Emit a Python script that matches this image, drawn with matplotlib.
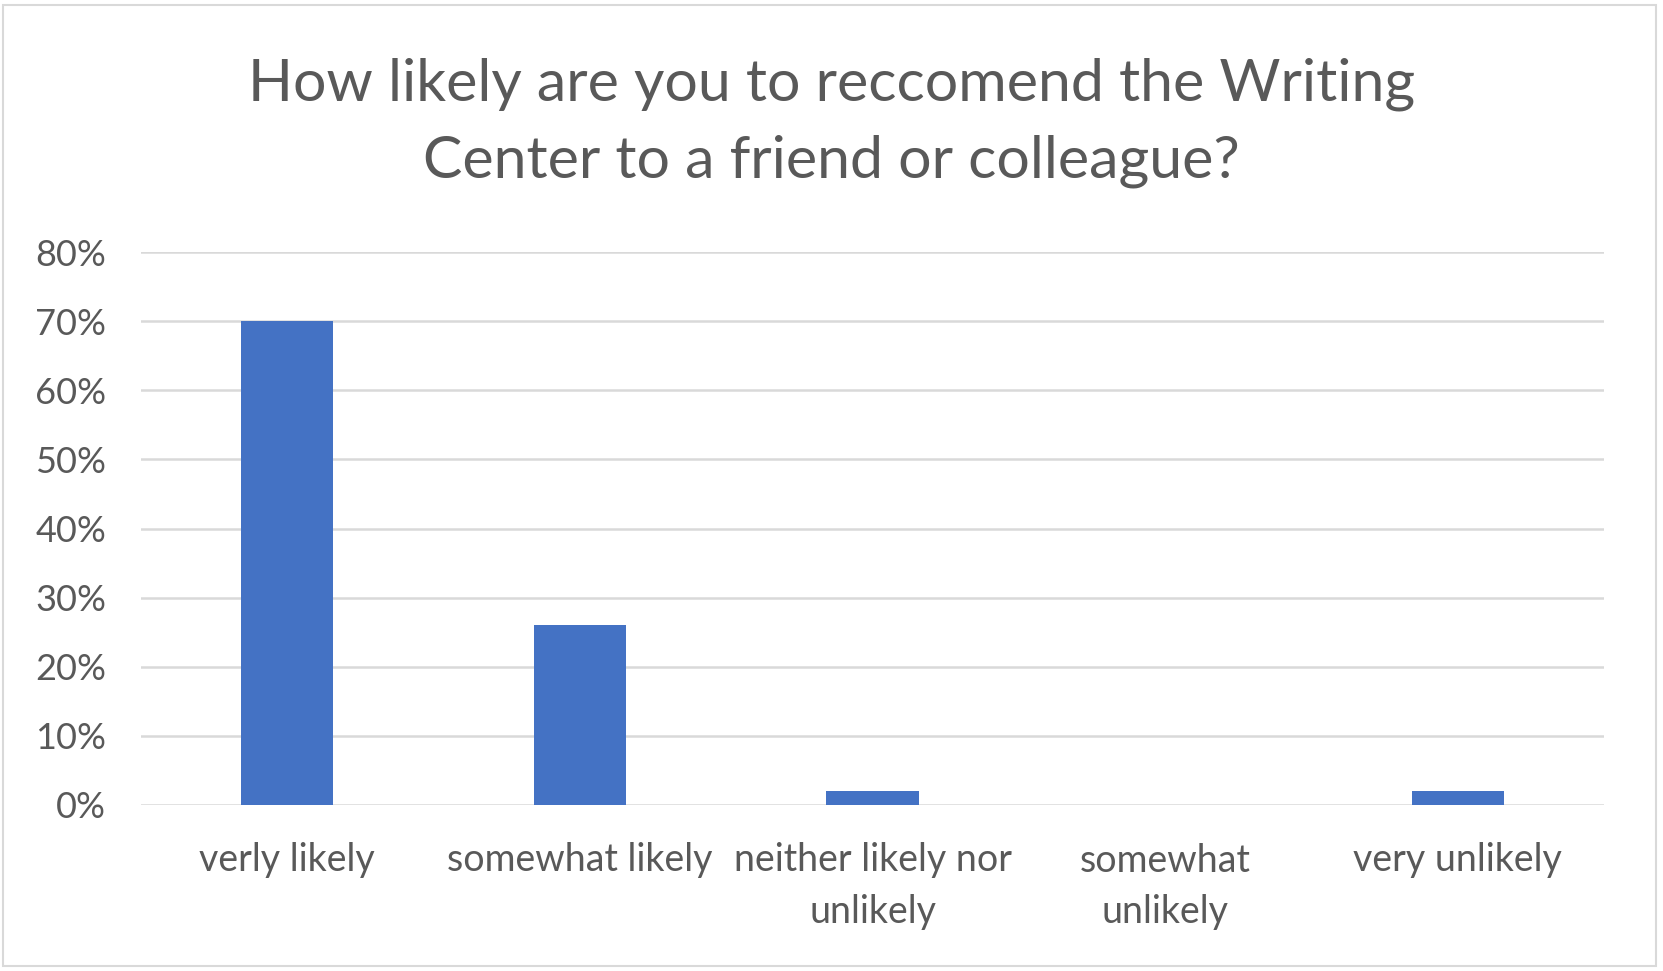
import matplotlib
matplotlib.use("Agg")
import matplotlib.pyplot as plt
from matplotlib.patches import Rectangle
from matplotlib.ticker import PercentFormatter

categories = ["verly likely", "somewhat likely", "neither likely nor\nunlikely", "somewhat\nunlikely", "very unlikely"]
values = [0.70, 0.26, 0.02, 0.0, 0.02]
yticks = [0, 0.1, 0.2, 0.3, 0.4, 0.5, 0.6, 0.7, 0.8]
title = "How likely are you to reccomend the Writing\nCenter to a friend or colleague?"

plt.rcParams['font.family'] = ['Lato', 'DejaVu Sans']
W, H = 1663, 971
fig = plt.figure(figsize=(W / 100, H / 100), dpi=100)
fig.patches.append(Rectangle((3 / W, 5 / H), 1 - 10 / W, 1 - 10 / H, transform=fig.transFigure,
                             fill=False, edgecolor="#D9D9D9", linewidth=1.5))

left, right = 141 / W, 1604 / W
bottom, top = 1 - 805 / H, 1 - 252 / H
ax = fig.add_axes([left, bottom, right - left, top - bottom])

x = range(len(categories))
ax.bar(x, values, width=0.315, color="#4472C4", zorder=3)
ax.set_xlim(-0.5, len(categories) - 0.5)
ax.set_ylim(0, 0.8)
ax.set_yticks(yticks)
ax.yaxis.set_major_formatter(PercentFormatter(1.0, decimals=0))
ax.set_xticks(list(x))
ax.set_xticklabels(categories, linespacing=1.55, fontsize=27)
ax.grid(axis="y", color="#D9D9D9", linewidth=1.8, zorder=0)
for s in ax.spines.values():
    s.set_visible(False)
ax.tick_params(axis="both", length=0, colors="#595959")
ax.tick_params(axis="y", pad=25, labelsize=26)
ax.tick_params(axis="x", pad=27)

fig.text(0.5, 1 - 123 / H, title, ha="center", va="center", fontsize=42.5, color="#595959",
         linespacing=1.55)

fig.savefig("out.png", dpi=100, facecolor="white")
